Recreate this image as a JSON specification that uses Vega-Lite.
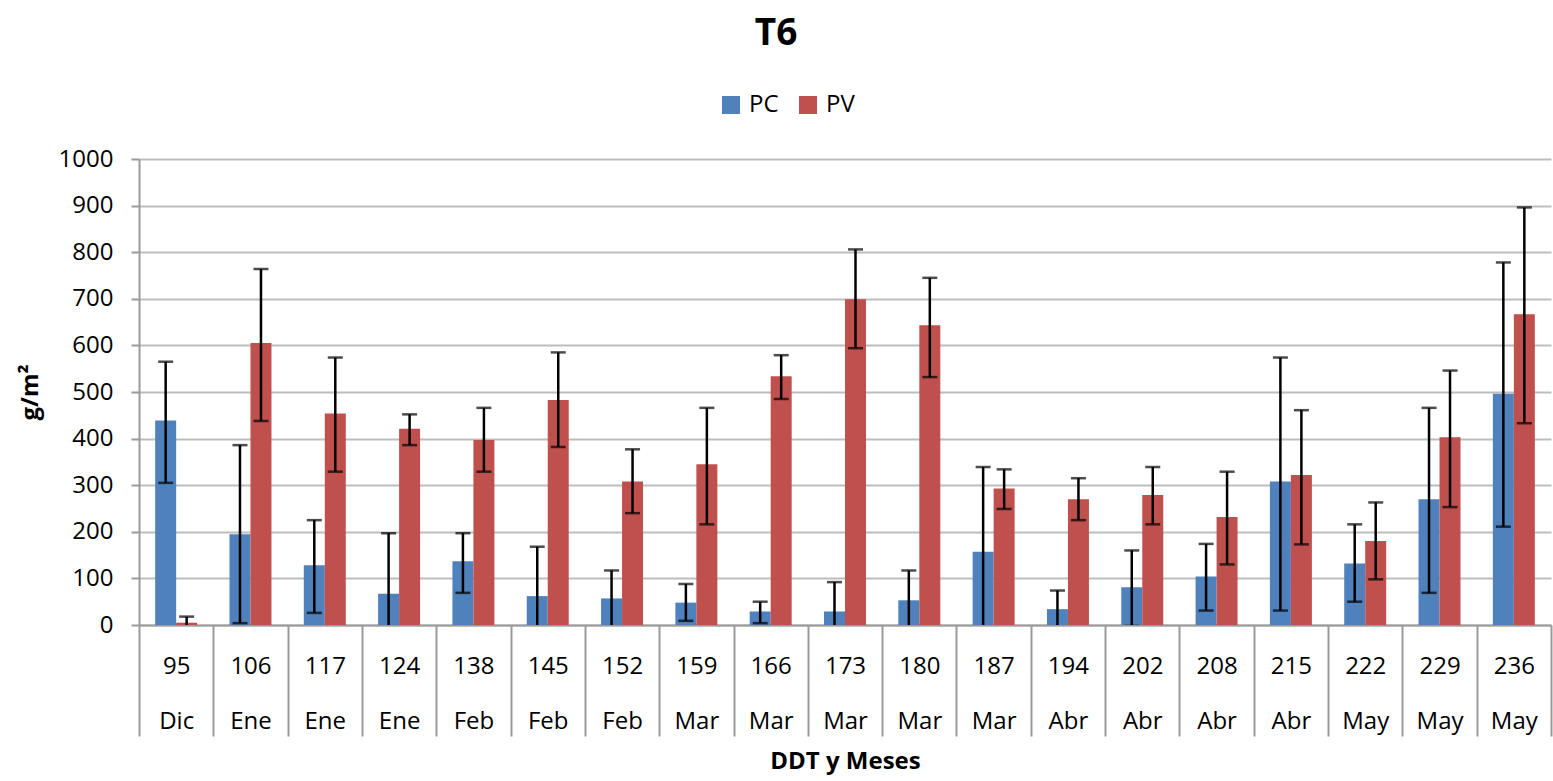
{
  "$schema": "https://vega.github.io/schema/vega-lite/v6.json",
  "width": 1412,
  "height": 466,
  "autosize": {"type": "none"},
  "padding": {"left": 139, "top": 159, "right": 2, "bottom": 156},
  "background": "white",
  "title": {"text": "T6", "fontSize": 37, "fontWeight": "bold", "font": "Open Sans", "color": "black", "anchor": "middle", "dx": -69, "offset": 40},
  "config": {
    "view": {"stroke": null},
    "font": "Open Sans"
  },
  "data": {
    "values": [
      {"cat": "95|Dic", "ddt": 95, "mes": "Dic", "serie": "PC", "valor": 439, "lo": 305, "hi": 565},
      {"cat": "95|Dic", "ddt": 95, "mes": "Dic", "serie": "PV", "valor": 5, "lo": -8, "hi": 18},
      {"cat": "106|Ene", "ddt": 106, "mes": "Ene", "serie": "PC", "valor": 195, "lo": 4, "hi": 386},
      {"cat": "106|Ene", "ddt": 106, "mes": "Ene", "serie": "PV", "valor": 605, "lo": 438, "hi": 764},
      {"cat": "117|Ene", "ddt": 117, "mes": "Ene", "serie": "PC", "valor": 128, "lo": 26, "hi": 225},
      {"cat": "117|Ene", "ddt": 117, "mes": "Ene", "serie": "PV", "valor": 454, "lo": 329, "hi": 574},
      {"cat": "124|Ene", "ddt": 124, "mes": "Ene", "serie": "PC", "valor": 67, "lo": -63, "hi": 197},
      {"cat": "124|Ene", "ddt": 124, "mes": "Ene", "serie": "PV", "valor": 421, "lo": 386, "hi": 452},
      {"cat": "138|Feb", "ddt": 138, "mes": "Feb", "serie": "PC", "valor": 137, "lo": 69, "hi": 197},
      {"cat": "138|Feb", "ddt": 138, "mes": "Feb", "serie": "PV", "valor": 397, "lo": 329, "hi": 466},
      {"cat": "145|Feb", "ddt": 145, "mes": "Feb", "serie": "PC", "valor": 62, "lo": -44, "hi": 168},
      {"cat": "145|Feb", "ddt": 145, "mes": "Feb", "serie": "PV", "valor": 483, "lo": 382, "hi": 585},
      {"cat": "152|Feb", "ddt": 152, "mes": "Feb", "serie": "PC", "valor": 57, "lo": -3, "hi": 117},
      {"cat": "152|Feb", "ddt": 152, "mes": "Feb", "serie": "PV", "valor": 308, "lo": 240, "hi": 377},
      {"cat": "159|Mar", "ddt": 159, "mes": "Mar", "serie": "PC", "valor": 48, "lo": 9, "hi": 88},
      {"cat": "159|Mar", "ddt": 159, "mes": "Mar", "serie": "PV", "valor": 345, "lo": 216, "hi": 466},
      {"cat": "166|Mar", "ddt": 166, "mes": "Mar", "serie": "PC", "valor": 29, "lo": 4, "hi": 50},
      {"cat": "166|Mar", "ddt": 166, "mes": "Mar", "serie": "PV", "valor": 534, "lo": 485, "hi": 579},
      {"cat": "173|Mar", "ddt": 173, "mes": "Mar", "serie": "PC", "valor": 29, "lo": -34, "hi": 92},
      {"cat": "173|Mar", "ddt": 173, "mes": "Mar", "serie": "PV", "valor": 699, "lo": 594, "hi": 806},
      {"cat": "180|Mar", "ddt": 180, "mes": "Mar", "serie": "PC", "valor": 53, "lo": -11, "hi": 117},
      {"cat": "180|Mar", "ddt": 180, "mes": "Mar", "serie": "PV", "valor": 643, "lo": 532, "hi": 745},
      {"cat": "187|Mar", "ddt": 187, "mes": "Mar", "serie": "PC", "valor": 157, "lo": -25, "hi": 339},
      {"cat": "187|Mar", "ddt": 187, "mes": "Mar", "serie": "PV", "valor": 293, "lo": 249, "hi": 334},
      {"cat": "194|Abr", "ddt": 194, "mes": "Abr", "serie": "PC", "valor": 34, "lo": -6, "hi": 74},
      {"cat": "194|Abr", "ddt": 194, "mes": "Abr", "serie": "PV", "valor": 270, "lo": 225, "hi": 315},
      {"cat": "202|Abr", "ddt": 202, "mes": "Abr", "serie": "PC", "valor": 81, "lo": -2, "hi": 160},
      {"cat": "202|Abr", "ddt": 202, "mes": "Abr", "serie": "PV", "valor": 279, "lo": 216, "hi": 339},
      {"cat": "208|Abr", "ddt": 208, "mes": "Abr", "serie": "PC", "valor": 104, "lo": 31, "hi": 174},
      {"cat": "208|Abr", "ddt": 208, "mes": "Abr", "serie": "PV", "valor": 232, "lo": 130, "hi": 329},
      {"cat": "215|Abr", "ddt": 215, "mes": "Abr", "serie": "PC", "valor": 308, "lo": 31, "hi": 574},
      {"cat": "215|Abr", "ddt": 215, "mes": "Abr", "serie": "PV", "valor": 322, "lo": 173, "hi": 461},
      {"cat": "222|May", "ddt": 222, "mes": "May", "serie": "PC", "valor": 132, "lo": 50, "hi": 216},
      {"cat": "222|May", "ddt": 222, "mes": "May", "serie": "PV", "valor": 180, "lo": 98, "hi": 263},
      {"cat": "229|May", "ddt": 229, "mes": "May", "serie": "PC", "valor": 270, "lo": 69, "hi": 466},
      {"cat": "229|May", "ddt": 229, "mes": "May", "serie": "PV", "valor": 403, "lo": 253, "hi": 546},
      {"cat": "236|May", "ddt": 236, "mes": "May", "serie": "PC", "valor": 496, "lo": 211, "hi": 778},
      {"cat": "236|May", "ddt": 236, "mes": "May", "serie": "PV", "valor": 667, "lo": 433, "hi": 896}
    ]
  },
  "encoding": {
    "x": {
      "field": "cat", "type": "nominal", "sort": null,
      "scale": {"paddingInner": 0, "paddingOuter": 0},
      "axis": {
        "title": "DDT y Meses", "titleFontSize": 24, "titleFontWeight": "bold", "titleFont": "Open Sans", "titleColor": "black", "titlePadding": 12,
        "labelExpr": "isString(datum.value) ? split(datum.value, '|') : ''", "labelAngle": 0, "labelFontSize": 24, "labelFont": "Open Sans", "labelColor": "black",
        "labelLineHeight": 55, "labelPadding": -82, "labelBaseline": "top",
        "tickBand": "extent", "tickSize": 111, "tickColor": "#9a9a9a", "tickWidth": 2,
        "domainColor": "#9a9a9a", "domainWidth": 2, "grid": false
      }
    },
    "xOffset": {"field": "serie", "type": "nominal", "scale": {"paddingInner": 0, "paddingOuter": 0.77}}
  },
  "layer": [
    {
      "mark": {"type": "bar"},
      "encoding": {
        "y": {
          "field": "valor", "type": "quantitative",
          "scale": {"domain": [0, 1000], "nice": false},
          "axis": {
            "title": "g/m²", "titleFontSize": 24, "titleFontWeight": "bold", "titleFont": "Open Sans", "titleColor": "black", "titlePadding": 16,
            "values": [0, 100, 200, 300, 400, 500, 600, 700, 800, 900, 1000], "format": "d",
            "labelFontSize": 24, "labelFont": "Open Sans", "labelColor": "black", "labelPadding": 18,
            "tickSize": 8, "tickColor": "#9a9a9a", "tickWidth": 2,
            "domainColor": "#9a9a9a", "domainWidth": 2,
            "grid": true, "gridColor": "#bdbdbd", "gridWidth": 2
          }
        },
        "color": {
          "field": "serie", "type": "nominal",
          "scale": {"domain": ["PC", "PV"], "range": ["#4F81BD", "#C0504D"]},
          "legend": {
            "title": null, "orient": "none", "direction": "horizontal", "legendX": 580, "legendY": -66,
            "symbolType": "square", "symbolSize": 324, "symbolStrokeWidth": 0, "symbolOpacity": 1,
            "labelFontSize": 24, "labelFont": "Open Sans", "labelColor": "black", "labelOffset": 6,
            "columnPadding": 17, "padding": 0
          }
        }
      }
    },
    {
      "mark": {"type": "rule", "color": "black", "strokeWidth": 2.5, "clip": true},
      "encoding": {
        "y": {"field": "lo", "type": "quantitative"},
        "y2": {"field": "hi"}
      }
    },
    {
      "mark": {"type": "tick", "color": "black", "thickness": 2.5, "size": 15, "clip": true, "orient": "horizontal"},
      "encoding": {
        "y": {"field": "hi", "type": "quantitative"}
      }
    },
    {
      "mark": {"type": "tick", "color": "black", "thickness": 2.5, "size": 15, "clip": true, "orient": "horizontal"},
      "encoding": {
        "y": {"field": "lo", "type": "quantitative"}
      }
    }
  ]
}
